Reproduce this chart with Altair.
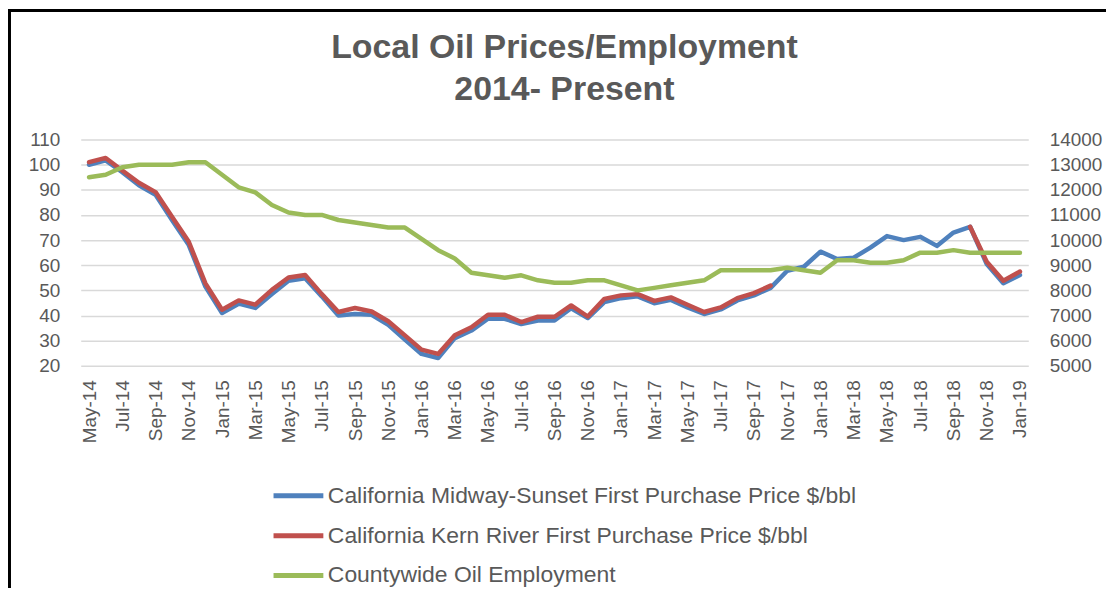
import altair as alt
import pandas as pd

months = list(pd.date_range("2014-05-01", "2019-01-01", freq="MS").strftime("%b-%y"))
tick_months = months[::2]

midway = [100, 101.7, 97, 91.8, 88, 77.9, 68, 51.5, 41, 44.7, 43, 48.5, 53.8, 54.8, 47.6, 40,
          40.6, 40.3, 36.3, 30.4, 24.7, 23.1, 31, 34, 38.7, 38.7, 36.6, 38, 38, 42.9, 39, 45.3,
          46.9, 47.6, 44.9, 46.2, 43.2, 40.6, 42.4, 46, 48, 51, 57.8, 59.4, 65.4, 62.5, 63, 67,
          71.6, 70, 71.3, 67.7, 73, 75.3, 60.5, 52.8, 56.1]
kern = [101, 102.7, 97.7, 92.8, 89.1, 79.2, 69.3, 52.8, 42.3, 46, 44.3, 50.2, 55.1, 56.1, 48.5, 41.4,
        43, 41.6, 37.7, 32.1, 26.4, 24.7, 32.1, 35.3, 40.3, 40.3, 37.4, 39.5, 39.5, 44, 39.6, 46.6,
        48, 48.5, 45.8, 47.2, 44.3, 41.4, 43.2, 46.9, 48.9, 51.9, None, None, None, None, None, None,
        None, None, None, None, None, 75.3, 61.4, 53.8, 57.5]
employment = [12500, 12600, 12900, 13000, 13000, 13000, 13100, 13100, 12600, 12100, 11900, 11400,
              11100, 11000, 11000, 10800, 10700, 10600, 10500, 10500, 10050, 9600, 9270, 8700,
              8600, 8500, 8600, 8400, 8300, 8300, 8400, 8400, 8200, 8000, 8100, 8200, 8300, 8400,
              8800, 8800, 8800, 8800, 8900, 8800, 8700, 9200, 9200, 9100, 9100, 9200, 9500, 9500,
              9600, 9500, 9500, 9500, 9500]

series_names = ["California Midway-Sunset First Purchase Price $/bbl",
                "California Kern River First Purchase Price $/bbl",
                "Countywide Oil Employment"]
series_colors = ["#4F81BD", "#C0504D", "#9BBB59"]

left_ticks = list(range(20, 111, 10))
right_ticks = list(range(5000, 14001, 1000))

TXT = "#595959"
FONT = "Liberation Sans"

def frame(vals, name):
    return pd.DataFrame({"month": months, "value": vals, "series": name})

df_mid = frame(midway, series_names[0])
df_kern = frame(kern, series_names[1])
df_emp = frame(employment, series_names[2])

color = alt.Color("series:N",
                  scale=alt.Scale(domain=series_names, range=series_colors),
                  legend=alt.Legend(title=None, orient="none", legendX=191, legendY=330,
                                    direction="vertical", symbolType="stroke", symbolSize=2500,
                                    symbolStrokeWidth=5, labelFont=FONT, labelFontSize=23,
                                    labelColor=TXT, labelOffset=2, labelLimit=1000,
                                    rowPadding=-10))

xenc = alt.X("month:O", sort=months, title=None,
             scale=alt.Scale(type="point", padding=0.5),
             axis=alt.Axis(values=tick_months, labelAngle=-90, labelFont=FONT, labelFontSize=19,
                           labelColor=TXT, domain=False, ticks=False, grid=False,
                           labelPadding=14))

yleft = alt.Y("value:Q", title=None,
              scale=alt.Scale(domain=[20, 110], nice=False, zero=False),
              axis=alt.Axis(values=left_ticks, labelFont=FONT, labelFontSize=19, labelColor=TXT,
                            domain=False, ticks=False, grid=True, gridColor="#D9D9D9",
                            gridWidth=1.5, labelPadding=21, orient="left"))

yright = alt.Y("value:Q", title=None,
               scale=alt.Scale(domain=[5000, 14000], nice=False, zero=False),
               axis=alt.Axis(values=right_ticks, format="d", labelFont=FONT, labelFontSize=19,
                             labelColor=TXT, domain=False, ticks=False, grid=False,
                             labelPadding=21, orient="right", labelAlign="left"))

line_kw = dict(strokeWidth=4.5, strokeCap="round", strokeJoin="round",
               invalid="break-paths-show-domains")

mid_layer = alt.Chart(df_mid).mark_line(**line_kw).encode(x=xenc, y=yleft, color=color)
kern_layer = alt.Chart(df_kern).mark_line(**line_kw).encode(x=xenc, y=yleft, color=color)
prices = alt.layer(mid_layer, kern_layer)
emp_layer = alt.Chart(df_emp).mark_line(**line_kw).encode(x=xenc, y=yright, color=color)

blank = alt.Data(values=[{}])
left_border = alt.Chart(blank).mark_rule(color="black", strokeWidth=3).encode(
    x=alt.value(-71.5), y=alt.value(-131), y2=alt.value(460))
top_border = alt.Chart(blank).mark_rule(color="black", strokeWidth=3).encode(
    x=alt.value(-73), x2=alt.value(1030), y=alt.value(-129.5))

chart = alt.layer(prices, emp_layer, left_border, top_border).resolve_scale(
    y="independent"
).properties(
    width=951, height=227,
    padding={"left": 73, "top": 131, "right": 78, "bottom": 222},
    autosize=alt.AutoSizeParams(type="none"),
    title=alt.TitleParams(["Local Oil Prices/Employment", "2014- Present"], font=FONT,
                          fontSize=34, fontWeight="bold", color=TXT, lineHeight=42,
                          anchor="middle", frame="group", dx=10, offset=-100),
    background="white",
).configure_view(stroke=None)

chart.save("out.html", embed_options={"renderer": "svg", "actions": False})
